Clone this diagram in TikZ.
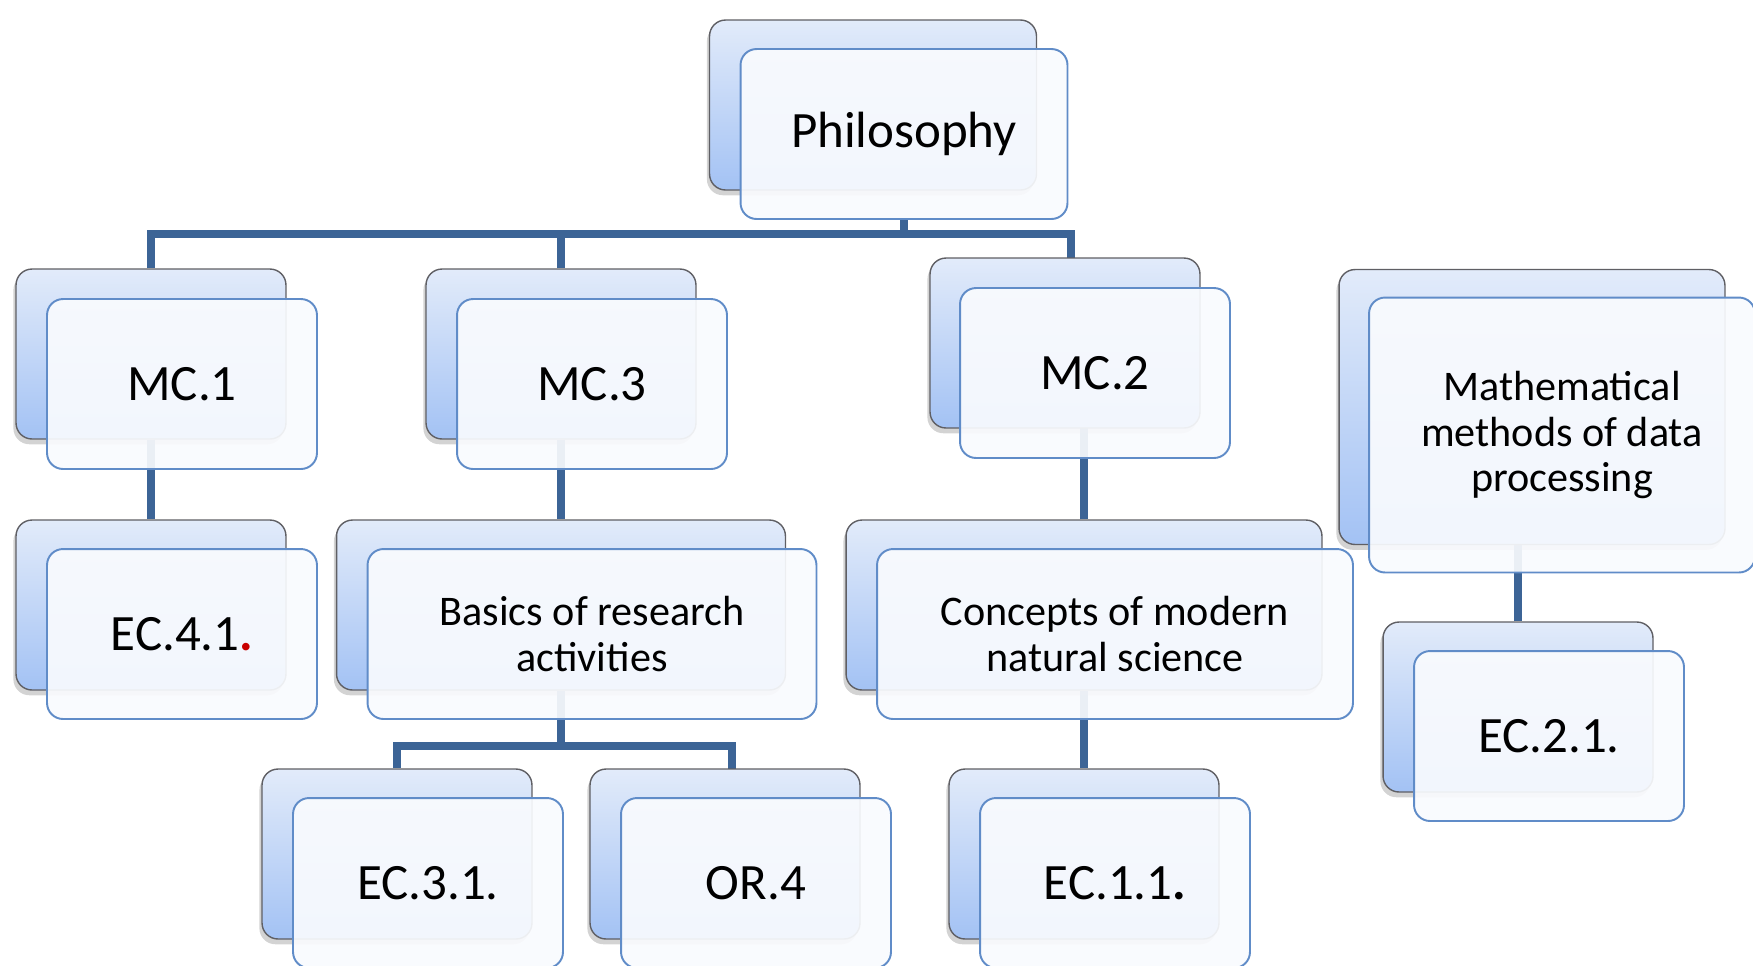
\documentclass[tikz,border=0pt]{standalone}
\usepackage{fontspec}
\setmainfont{Carlito}
\usetikzlibrary{shadows,backgrounds}
\definecolor{linkblue}{RGB}{60,100,150}
\definecolor{backgray}{RGB}{95,95,100}
\definecolor{backtop}{RGB}{226,235,250}
\definecolor{backbot}{RGB}{163,194,244}
\definecolor{frontblue}{RGB}{96,140,200}
\definecolor{frontfill}{RGB}{249,251,254}
\definecolor{dotred}{RGB}{200,0,0}
\begin{document}
\begin{tikzpicture}[x=0.02cm,y=-0.02cm,
    link/.style={draw=linkblue,line width=0.16cm},
    twoline/.style={font=\fontsize{24}{26}\selectfont}]
      \useasboundingbox (0,0) rectangle (1753,965);
      % back boxes
      \begin{scope}[every node/.style={draw=backgray,line width=0.8pt,rounded corners=0.32cm,
          top color=backtop,bottom color=backbot,inner sep=0pt,
          minimum width=5.4cm,minimum height=3.4cm,
          drop shadow={shadow xshift=-1.5pt,shadow yshift=-3pt,opacity=0.35}}]
        \node (philb) at (873,105) [minimum width=6.54cm] {};
        \node (mc1b) at (151,354) {};
        \node (mc3b) at (561,354) {};
        \node (mc2b) at (1065,343) {};
        \node (mathb) at (1532,407) [minimum width=7.72cm,minimum height=5.5cm] {};
        \node (ec41b) at (151,605) {};
        \node (basicsb) at (561,605) [minimum width=8.98cm] {};
        \node (conceptsb) at (1084,605) [minimum width=9.52cm] {};
        \node (ec21b) at (1518,707) {};
        \node (ec31b) at (397,854) {};
        \node (or4b) at (725,854) {};
        \node (ec11b) at (1084,854) {};
      \end{scope}
      % front boxes
      \begin{scope}[every node/.style={draw=frontblue,line width=1.1pt,rounded corners=0.32cm,
          fill=frontfill,fill opacity=0.92,text opacity=1,inner sep=0pt,align=center,
          minimum width=5.4cm,minimum height=3.4cm,font=\fontsize{29}{35}\selectfont}]
        \node (phil) at (904,134) [minimum width=6.54cm] {Philosophy};
        \node (mc1) at (182,384) {MC.1};
        \node (mc3) at (592,384) {MC.3};
        \node (mc2) at (1095,373) {MC.2};
        \node (math) at (1562,435) [minimum width=7.72cm,minimum height=5.5cm,twoline]
          {Mathematical\\methods of data\\processing};
        \node (ec41) at (182,634) {EC.4.1\textcolor{dotred}{\textbf{.}}};
        \node (basics) at (592,634) [minimum width=8.98cm,twoline] {Basics of research\\activities};
        \node (concepts) at (1115,634) [minimum width=9.52cm,twoline] {Concepts of modern\\natural science};
        \node (ec21) at (1549,736) {EC.2.1.};
        \node (ec31) at (428,883) {EC.3.1.};
        \node (or4) at (756,883) {OR.4};
        \node (ec11) at (1115,883) {EC.1.1\textbf{.}};
      \end{scope}
      % connectors
      \begin{pgfonlayer}{background}
        \coordinate (topbar) at (0,234);
        \coordinate (midbar) at (0,746);
        \draw[link] (phil) -- (phil |- topbar);
        \draw[link] (mc1b) |- ([xshift=0.12cm]mc2b.center |- topbar) -- ([xshift=0.12cm]mc2b.center);
        \draw[link] (mc3b) -- (mc3b |- topbar);
        \draw[link] (mc1b) -- (ec41b);
        \draw[link] (mc3b) -- (basicsb);
        \draw[link] (conceptsb) -- (conceptsb |- mc2);
        \draw[link] (conceptsb) -- (ec11b);
        \draw[link] (ec21b) -- (ec21b |- math);
        \draw[link] (basicsb) -- (basicsb |- midbar);
        \draw[link] (ec31b) |- ([xshift=0.14cm]or4b.center |- midbar) -- ([xshift=0.14cm]or4b.center);
      \end{pgfonlayer}
\end{tikzpicture}
\end{document}
